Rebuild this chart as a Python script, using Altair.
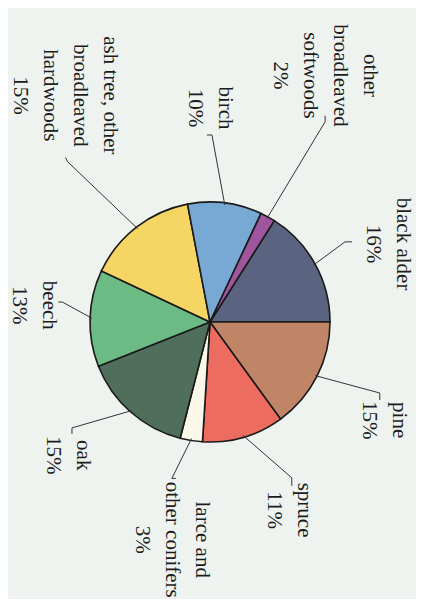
import math
import altair as alt
import pandas as pd

# ---- data ----
categories = [
    "black alder", "pine", "spruce", "larce and other conifers", "oak",
    "beech", "ash tree, other broadleaved hardwoods", "birch",
    "other broadleaved softwoods",
]
label_lines = [
    "black alder\n16%", "pine\n15%", "spruce\n11%", "larce and\nother conifers\n3%",
    "oak\n15%", "beech\n13%", "ash tree, other\nbroadleaved\nhardwoods\n15%",
    "birch\n10%", "other\nbroadleaved\nsoftwoods\n2%",
]
shares = [16, 15, 11, 3, 15, 13, 15, 10, 2]
colors = ["#5a6480", "#c08466", "#ec6c60", "#fbf8ea", "#4f6e5c",
          "#6cbb84", "#f5d665", "#78a8d4", "#a0569e"]

# ---- layout (styling, not data): label radius / angle nudge, leader end, hook ----
W, H = 408, 591
CX, CY = 202, 314
R = 120
LH = 30
START = 32.4  # degrees, clockwise from top
label_r = [194, 200, 204, 221, 195, 177, 269, 214, 272]
label_nudge = [5.1, 2.4, -6.6, 0.9, 5.5, 3.6, 5.2, -7.2, -3.8]
line_r = [157, 184, 176, 161, 174, 149, 214, 187, 231]
line_nudge = [-1.9, -4.3, -11.5, 4.7, 11.1, 5.9, -3.8, -6.6, 1.1]
hook_dir = [90, 180, 180, 90, 180, 270, 330, 270, 0]
hook_len = [7, 7, 8, 4, 6, 4, 5, 5, 6]

df = pd.DataFrame({
    "category": categories,
    "label": label_lines,
    "share": shares,
    "order": list(range(len(categories))),
    "lr": label_r, "ln": label_nudge, "er": line_r, "en": line_nudge,
    "hd": hook_dir, "hl": hook_len,
})

start_rad = math.radians(START)
color_scale = alt.Scale(domain=categories, range=colors)

base = alt.Chart(df).transform_window(
    cum="sum(share)", sort=[alt.SortField("order")]
).transform_joinaggregate(total="sum(share)").transform_calculate(
    mid=f"{start_rad} + (datum.cum - datum.share/2) / datum.total * 2 * PI"
).transform_calculate(
    ex=f"{CX} + datum.er * sin(datum.mid + datum.en * PI / 180)",
    ey=f"{CY} - datum.er * cos(datum.mid + datum.en * PI / 180)",
)

pie = alt.Chart(df).mark_arc(stroke="#1a1a1a", strokeWidth=1.6).encode(
    theta=alt.Theta("share:Q", stack=True,
                    scale=alt.Scale(range=[start_rad, start_rad + 2 * math.pi])),
    color=alt.Color("category:N", scale=color_scale, legend=None),
    order=alt.Order("order:Q"),
    x=alt.value(CX), y=alt.value(CY), radius=alt.value(R),
)

lines = base.transform_calculate(
    x1=f"{CX} + {R - 2} * sin(datum.mid)",
    y1=f"{CY} - {R - 2} * cos(datum.mid)",
).mark_rule(color="#333333", strokeWidth=1).encode(
    x=alt.X("x1:Q", scale=None), y=alt.Y("y1:Q", scale=None),
    x2="ex:Q", y2="ey:Q",
)

hooks = base.transform_calculate(
    hx="datum.ex + datum.hl * sin(datum.hd * PI / 180)",
    hy="datum.ey - datum.hl * cos(datum.hd * PI / 180)",
).mark_rule(color="#333333", strokeWidth=1).encode(
    x=alt.X("ex:Q", scale=None), y=alt.Y("ey:Q", scale=None),
    x2="hx:Q", y2="hy:Q",
)

labels = base.transform_calculate(
    nl="length(split(datum.label, '\\n'))",
).transform_calculate(
    tx=f"{CX} + datum.lr * sin(datum.mid + datum.ln * PI / 180) + (datum.nl - 1) * {LH / 2}",
    ty=f"{CY} - datum.lr * cos(datum.mid + datum.ln * PI / 180)",
).mark_text(
    angle=90, align="center", baseline="middle", lineBreak="\n",
    font="Liberation Serif", fontSize=21, lineHeight=LH, color="#1c1c1c",
).encode(
    x=alt.X("tx:Q", scale=None), y=alt.Y("ty:Q", scale=None),
    text="label:N",
)

chart = alt.layer(pie, lines, hooks, labels).properties(
    width=W, height=H, background="#eef3f0", padding=0,
    autosize=alt.AutoSizeParams(type="none"),
).configure_view(stroke=None)

chart.save("out.html", embed_options={"renderer": "svg", "actions": False})
